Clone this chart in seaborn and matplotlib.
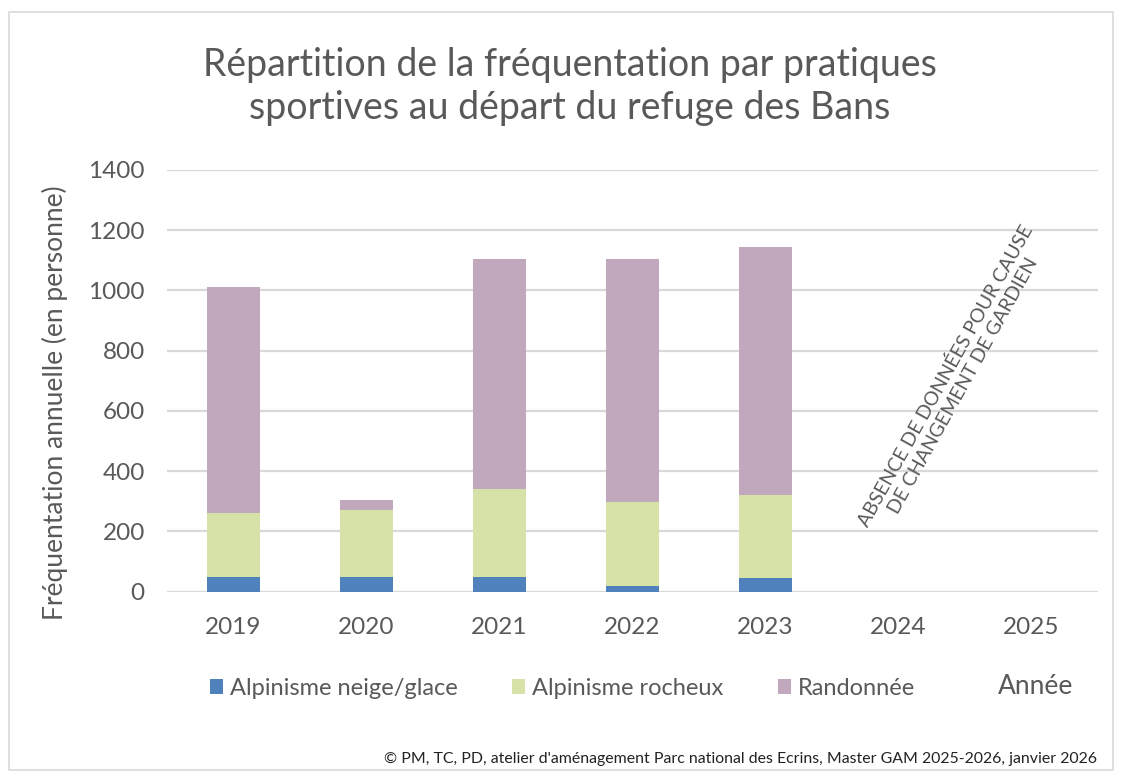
import pandas as pd
import matplotlib
matplotlib.use("Agg")
import matplotlib.pyplot as plt
from matplotlib.patches import Patch, Rectangle
import seaborn as sns

years = ["2019", "2020", "2021", "2022", "2023", "2024", "2025"]
data_years = ["2019", "2020", "2021", "2022", "2023"]
neige_glace = [48, 50, 50, 20, 45]
rocheux = [214, 220, 290, 278, 277]
randonnee = [750, 33, 765, 808, 822]

series_names = ["Alpinisme neige/glace", "Alpinisme rocheux", "Randonnée"]
colors = ["#4f81bd", "#d6e2a8", "#c1a8bc"]
text_gray = "#595959"

df = pd.DataFrame({"annee": data_years, "neige": neige_glace,
                   "rocheux": rocheux, "rando": randonnee})
df["cum1"] = df["neige"]
df["cum2"] = df["neige"] + df["rocheux"]
df["cum3"] = df["cum2"] + df["rando"]

sns.set_theme(style="white")
plt.rcParams["font.family"] = ["Lato", "DejaVu Sans"]

fig = plt.figure(figsize=(11.21, 7.76), dpi=100)
ax = fig.add_axes([0.149, 0.2375, 0.8305, 0.5435])

# stacked bars: draw cumulative totals back to front
for col, c in zip(["cum3", "cum2", "cum1"], colors[::-1]):
    sns.barplot(data=df, x="annee", y=col, order=years, color=c,
                width=0.4, saturation=1, linewidth=0, ax=ax, zorder=3)

ax.set_ylim(0, 1400)
ax.set_xlim(-0.5, 6.5)
ax.set_yticks(range(0, 1401, 200))
ax.grid(axis="y", color="#d9d9d9", linewidth=1.6, zorder=0)
ax.set_axisbelow(True)
for s in ax.spines.values():
    s.set_visible(False)
ax.tick_params(axis="both", length=0, labelsize=17.5, labelcolor=text_gray)
ax.tick_params(axis="y", pad=16)
ax.tick_params(axis="x", pad=18)
ax.set_xlabel("")
ax.set_ylabel("Fréquentation annuelle (en personne)", fontsize=19,
              color=text_gray)
ax.yaxis.set_label_coords(-0.106, 0.447)

ax.text(5.42, 700, "ABSENCE DE DONNÉES POUR CAUSE\nDE CHANGEMENT DE GARDIEN",
        rotation=61, ha="center", va="center", fontsize=14,
        color=text_gray, linespacing=1.15, rotation_mode="anchor")

fig.text(0.508, 0.889, "Répartition de la fréquentation par pratiques\nsportives au départ du refuge des Bans",
         ha="center", va="center", fontsize=27, color=text_gray, linespacing=1.25)

handles = [Patch(facecolor=c, edgecolor="none") for c in colors]
fig.legend(handles, series_names, loc="center", bbox_to_anchor=(0.502, 0.113),
           ncol=3, frameon=False, fontsize=17, labelcolor=text_gray,
           handlelength=0.55, handleheight=0.55, handletextpad=0.3,
           columnspacing=2.3)
fig.text(0.924, 0.115, "Année", ha="center", va="center", fontsize=19,
         color=text_gray)

fig.text(0.979, 0.022, "© PM, TC, PD, atelier d'aménagement Parc national des Ecrins, Master GAM 2025-2026, janvier 2026",
         ha="right", va="center", fontsize=11.4, color="#222222")

fig.patches.append(Rectangle((0.008, 0.008), 0.985, 0.977, transform=fig.transFigure,
                             fill=False, edgecolor="#d9d9d9", linewidth=1.2))

fig.savefig("out.png", dpi=100)
